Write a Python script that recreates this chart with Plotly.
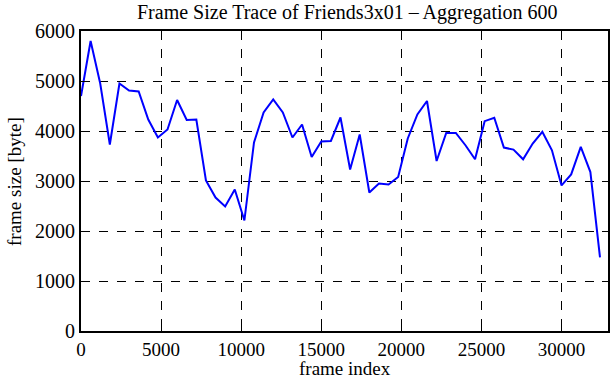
import plotly.graph_objects as go

frame_index = [i * 600 for i in range(55)]
frame_size = [4700, 5800, 4950, 3730, 4950, 4810, 4790, 4230, 3870, 4030,
              4620, 4220, 4230, 3010, 2670, 2490, 2830, 2210, 3770, 4370,
              4630, 4370, 3870, 4130, 3480, 3790, 3800, 4270, 3230, 3930,
              2770, 2950, 2930, 3080, 3850, 4330, 4600, 3400, 3962, 3962,
              3715, 3434, 4197, 4264, 3668, 3628, 3434, 3748, 3983, 3614,
              2912, 3132, 3681, 3179, 1473]

x_ticks = [0, 5000, 10000, 15000, 20000, 25000, 30000]
y_ticks = [0, 1000, 2000, 3000, 4000, 5000, 6000]

font_family = "Liberation Serif, Times New Roman, serif"
W, H = 611, 380
ML, MR, MT, MB = 81, 3, 31, 49
PW, PH = W - ML - MR, H - MT - MB

fig = go.Figure()
fig.add_trace(go.Scatter(x=frame_index, y=frame_size, mode="lines",
                         line=dict(color="#0000ff", width=2), showlegend=False))

axis_common = dict(
    showline=True, linecolor="black", linewidth=2, mirror="ticks",
    ticks="inside", ticklen=6, tickwidth=1, tickcolor="black",
    showgrid=True, gridcolor="black", gridwidth=1, griddash="dash",
    zeroline=False, automargin=False,
)

fig.update_xaxes(range=[0, 32900], tickvals=x_ticks,
                 ticktext=[str(v) for v in x_ticks],
                 tickfont=dict(family=font_family, size=19, color="black"),
                 **axis_common)
fig.update_yaxes(range=[0, 6000], tickvals=y_ticks,
                 ticktext=[str(v) for v in y_ticks],
                 tickfont=dict(family=font_family, size=20, color="black"),
                 **axis_common)


def px(x):
    return (x - ML) / PW


def py(y):
    return ((H - MB) - y) / PH


fig.update_layout(
    width=W, height=H,
    margin=dict(l=ML, r=MR, t=MT, b=MB, autoexpand=False),
    plot_bgcolor="white", paper_bgcolor="white",
    font=dict(family=font_family, color="black"),
    annotations=[
        dict(text="Frame Size Trace of Friends3x01 \u2013 Aggregation 600",
             xref="paper", yref="paper", x=px(347), y=py(12),
             xanchor="center", yanchor="middle", showarrow=False,
             font=dict(family=font_family, size=20, color="black")),
        dict(text="frame index", xref="paper", yref="paper",
             x=px(345), y=py(381),
             xanchor="center", yanchor="bottom", showarrow=False,
             font=dict(family=font_family, size=19, color="black")),
        dict(text="frame size [byte]", xref="paper", yref="paper",
             x=px(14), y=py(182),
             xanchor="center", yanchor="middle", textangle=-90, showarrow=False,
             font=dict(family=font_family, size=19, color="black")),
    ],
)

fig.write_html("out.html", config={"displayModeBar": False},
               post_script="document.body.style.margin='0';")
